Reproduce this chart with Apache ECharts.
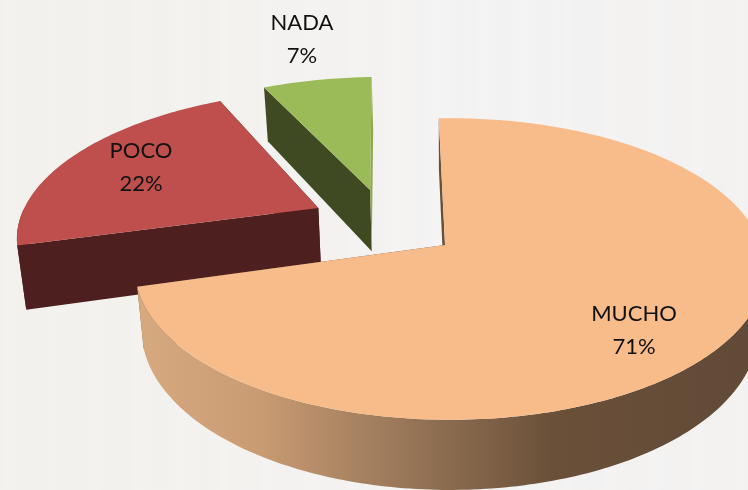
<!DOCTYPE html>
<html>
<head>
<meta charset="utf-8">
<style>
html,body{margin:0;padding:0;width:748px;height:490px;overflow:hidden;
background:
 repeating-linear-gradient(90deg,rgba(255,255,255,0) 0,rgba(255,255,255,.1) 7px,rgba(255,255,255,0) 19px,rgba(235,233,228,.07) 31px,rgba(255,255,255,0) 43px),
 linear-gradient(90deg,#f2f1ee 0,#f3f2ef 30%,#f4f3f3 60%,#f3f2f1 100%);}
#chart{width:748px;height:490px;}
</style>
<script src="https://cdn.jsdelivr.net/npm/echarts@6/dist/echarts.min.js"></script>
</head>
<body>
<div id="chart"></div>
<script>
const categories = ['MUCHO', 'POCO', 'NADA'];
const values = [71, 22, 7];
const topColors = ['#F7BC8A', '#BE4F4C', '#9BBB59'];
const wallColors = ['#6A5039', '#4E1F1F', '#3F4A22'];
const endWallColors = ['#6A5039', '#4E1F1F', '#8CA950'];
const explodeU = [0, -0.441, -0.273];
const explodeV = [0, -0.262, -0.397];
const apexShiftU = [-0.016, 0, 0];
const radiusU = [1, 0.985, 1];
const depthScale = [1, 1.09, 1.1];
// Small per-slice corrections (degrees) for the perspective of the original
const startNudge = [-2.4, -1, -1.4];
const endNudge = [-1.4, -1, -2];
const labelX = [634, 141, 302];
const labelY = [330, 167, 39];
// Far slices are painted first so the large slice overlaps them
const drawOrder = [2, 1, 0];

const OX = 450, OY = 245, RX = 311, RY = 147, K = 0.159, DEPTH = 59, VX = 445, SHRINK = 0.979;
const total = values.reduce((a, b) => a + b, 0);
const DEG = Math.PI / 180;

function project(u, v) {
  const f = 1 / (1 - K * v);
  return [OX + RX * u * f, OY + RY * v * f, f];
}
function lowerBy(scale) {
  return p => [VX + (p[0] - VX) * SHRINK, p[1] + DEPTH * scale * p[2]];
}
function poly(points, fill) {
  return { type: 'polygon', shape: { points: points.map(p => [p[0], p[1]]) },
    style: { fill: fill, stroke: null } };
}

function renderItem(params, api) {
  const i = api.value(0);
  const val = api.value(1);
  const lower = lowerBy(depthScale[i]);
  let before = 0;
  for (let j = 0; j < i; j++) before += values[j];
  const a0 = before / total * 2 * Math.PI + startNudge[i] * DEG;
  const a1 = (before + val) / total * 2 * Math.PI + endNudge[i] * DEG;
  const cu = explodeU[i], cv = explodeV[i];
  const apex = project(cu + apexShiftU[i], cv);
  const rim = [], frontRim = [];
  const steps = Math.ceil((a1 - a0) / DEG);
  for (let s = 0; s <= steps; s++) {
    const a = a0 + (a1 - a0) * s / steps;
    const p = project(cu + radiusU[i] * Math.sin(a), cv - Math.cos(a));
    rim.push(p);
    if (Math.cos(a) < 0) frontRim.push(p);
  }
  const first = rim[0], last = rim[rim.length - 1];
  const wallFill = i === 0
    ? { type: 'linear', x: 140, y: 0, x2: 748, y2: 0, global: true,
        colorStops: [
          { offset: 0, color: '#D6A97F' },
          { offset: 0.2, color: '#C89B73' },
          { offset: 0.45, color: '#957456' },
          { offset: 0.68, color: '#6A5039' },
          { offset: 1, color: '#614A37' }
        ] }
    : wallColors[i];
  const children = [
    poly([first, apex, lower(apex), lower(first)], wallColors[i]),
    poly([last, apex, lower(apex), lower(last)], endWallColors[i])
  ];
  if (frontRim.length > 1) {
    children.push(poly(frontRim.concat(frontRim.map(lower).reverse()), wallFill));
  }
  children.push(poly([apex].concat(rim), topColors[i]));
  children.push({ type: 'text', z2: 10, x: labelX[i], y: labelY[i],
    style: { text: categories[i] + '\n' + val + '%',
      fill: '#111', font: '22px Lato', lineHeight: 33,
      align: 'center', verticalAlign: 'middle' } });
  return { type: 'group', children: children };
}

const chart = echarts.init(document.getElementById('chart'), null, { renderer: 'canvas' });
chart.setOption({
  backgroundColor: 'transparent',
  animation: false,
  series: [{
    type: 'custom',
    coordinateSystem: 'none',
    silent: true,
    clip: false,
    renderItem: renderItem,
    data: drawOrder.map(i => ({ name: categories[i], value: [i, values[i]] }))
  }]
});
</script>
</body>
</html>
